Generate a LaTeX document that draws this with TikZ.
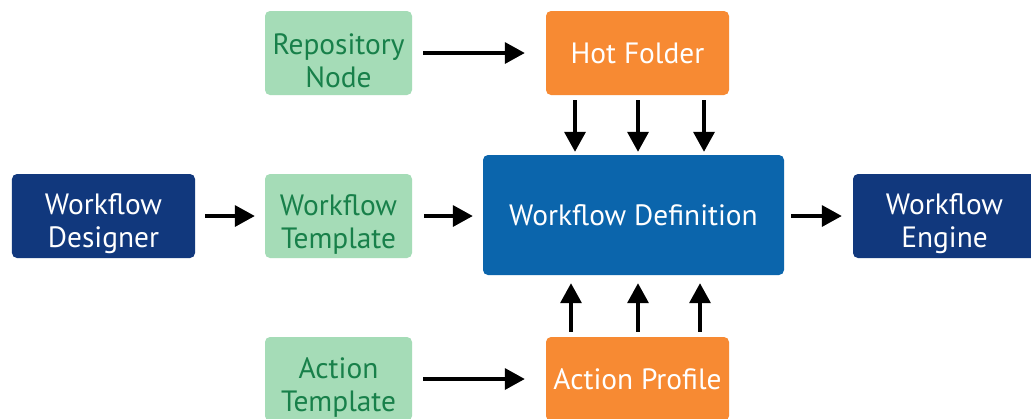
\documentclass[tikz,border=0pt]{standalone}
\usepackage{fontspec}
\setmainfont{PT Sans}
\usetikzlibrary{arrows.meta}
\definecolor{lgreen}{HTML}{A5DCB7}
\definecolor{dgreen}{HTML}{18804A}
\definecolor{orng}{HTML}{F78A33}
\definecolor{navy}{HTML}{11387D}
\definecolor{mblue}{HTML}{0B65AC}
\newcommand{\toppad}{\rule{0pt}{37bp}}
\tikzset{
  box/.style={rectangle, rounded corners=5bp, inner sep=0pt, align=center,
    font=\fontsize{29.5}{33}\selectfont},
  greenbox/.style={box, fill=lgreen, text=dgreen, minimum width=147bp, minimum height=84bp},
  orangebox/.style={box, fill=orng, text=white, minimum width=183bp, minimum height=84bp},
  navybox/.style={box, fill=navy, text=white, minimum width=183bp, minimum height=84bp},
  defbox/.style={box, fill=mblue, text=white, minimum width=301bp, minimum height=120bp},
  arr/.style={line width=3.5bp, -{Triangle[length=20bp,width=21bp]}},
}
\begin{document}
\begin{tikzpicture}[x=1bp,y=-1bp]
\clip (0,0) rectangle (1031,418);
\fill[white] (0,0) rectangle (1031,418);
\node[greenbox] (repo) at (338.5,53) {\toppad Repository\\Node};
\node[orangebox] (hot) at (637.5,53) {Hot Folder};
\node[navybox] (des) at (103.5,216) {\toppad Workflow\\Designer};
\node[greenbox] (wtpl) at (338.5,216) {\toppad Workflow\\Template};
\node[defbox] (def) at (633.5,215) {Workflow Definition};
\node[navybox] (eng) at (944.5,216) {\toppad Workflow\\Engine};
\node[greenbox] (atpl) at (338.5,379) {\toppad Action\\Template};
\node[orangebox] (prof) at (637.5,379) {Action Profile};

\draw[arr, shorten <=11bp, shorten >=21bp] (repo.east) -- (hot.west);
\draw[arr, shorten <=10bp, shorten >=10bp] (des.east) -- (wtpl.west);
\draw[arr, shorten <=12bp, shorten >=10bp] (wtpl.east) -- (def.west |- wtpl.east);
\draw[arr, shorten <=7bp, shorten >=11bp] (def.east |- eng.west) -- (eng.west);
\draw[arr, shorten <=11bp, shorten >=21bp] (atpl.east) -- (prof.west);

\foreach \dx in {-62.5,0.5,66.5}{
  \draw[arr, shorten <=5bp, shorten >=3bp] ([xshift=\dx bp]hot.south) -- ([xshift=\dx bp]hot.south |- def.north);
}
\foreach \dx in {-66.5,0.5,62.5}{
  \draw[arr, shorten <=5bp, shorten >=8bp] ([xshift=\dx bp]prof.north) -- ([xshift=\dx bp]prof.north |- def.south);
}
\end{tikzpicture}
\end{document}
